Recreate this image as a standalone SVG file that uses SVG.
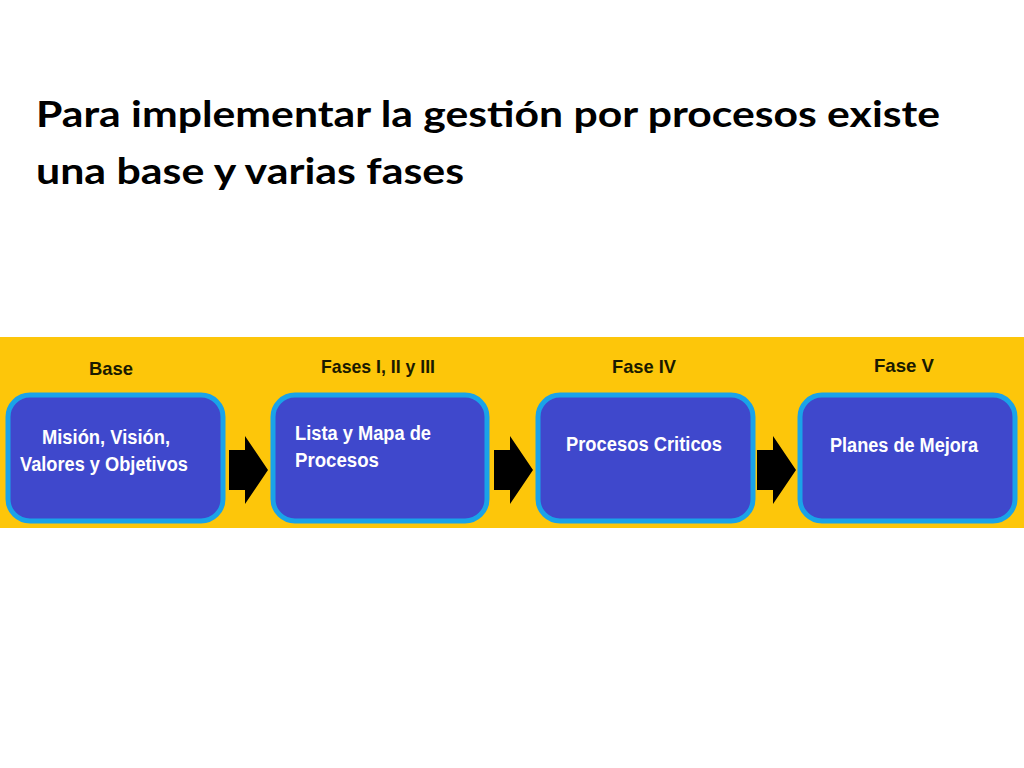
<svg xmlns="http://www.w3.org/2000/svg" width="1024" height="768" viewBox="0 0 1024 768">
<style>
.t{font-family:"Lato","Liberation Sans",sans-serif;font-weight:bold;font-size:37px;fill:#000}
.h{font-family:"Liberation Sans",sans-serif;font-weight:bold;font-size:19px;fill:#1a1a00}
.b{fill:#3f48cc;stroke:#1aa3e8;stroke-width:5}
.w{font-family:"Liberation Sans",sans-serif;font-weight:bold;font-size:20px;fill:#fff}
.a{fill:#000}
</style>
<rect width="1024" height="768" fill="#fff"/>
<text class="t" x="36" y="127" textLength="904" lengthAdjust="spacingAndGlyphs">Para implementar la gestión por procesos existe</text>
<text class="t" x="36" y="184" textLength="428" lengthAdjust="spacingAndGlyphs">una base y varias fases</text>
<rect x="0" y="337" width="1024" height="191" fill="#fdc60a"/>
<g id="base"><text class="h" x="111" y="375" text-anchor="middle" textLength="44" lengthAdjust="spacingAndGlyphs">Base</text>
<rect class="b" x="8" y="395" width="215" height="126" rx="22"/>
<text class="w" x="106" y="444" text-anchor="middle" textLength="128" lengthAdjust="spacingAndGlyphs">Misión, Visión,</text>
<text class="w" x="104" y="471" text-anchor="middle" textLength="168" lengthAdjust="spacingAndGlyphs">Valores y Objetivos</text></g>
<g id="fases123"><text class="h" x="378" y="373" text-anchor="middle" textLength="114" lengthAdjust="spacingAndGlyphs">Fases I, II y III</text>
<rect class="b" x="273" y="395" width="214" height="126" rx="22"/>
<text class="w" x="295" y="440" textLength="136" lengthAdjust="spacingAndGlyphs">Lista y Mapa de</text>
<text class="w" x="295" y="467" textLength="84" lengthAdjust="spacingAndGlyphs">Procesos</text></g>
<g id="fase4"><text class="h" x="644" y="373" text-anchor="middle" textLength="64" lengthAdjust="spacingAndGlyphs">Fase IV</text>
<rect class="b" x="538" y="395" width="215" height="126" rx="22"/>
<text class="w" x="644" y="451" text-anchor="middle" textLength="156" lengthAdjust="spacingAndGlyphs">Procesos Criticos</text></g>
<g id="fase5"><text class="h" x="904" y="372" text-anchor="middle" textLength="60" lengthAdjust="spacingAndGlyphs">Fase V</text>
<rect class="b" x="800" y="395" width="215" height="126" rx="22"/>
<text class="w" x="904" y="452" text-anchor="middle" textLength="148" lengthAdjust="spacingAndGlyphs">Planes de Mejora</text></g>
<g id="connectors">
<polygon class="a" points="229,450 245,450 245,436 268,470 245,504 245,490 229,490"/>
<polygon class="a" points="494,450 510,450 510,436 533,470 510,504 510,490 494,490"/>
<polygon class="a" points="757,450 773,450 773,436 796,470 773,504 773,490 757,490"/>
</g>
</svg>
